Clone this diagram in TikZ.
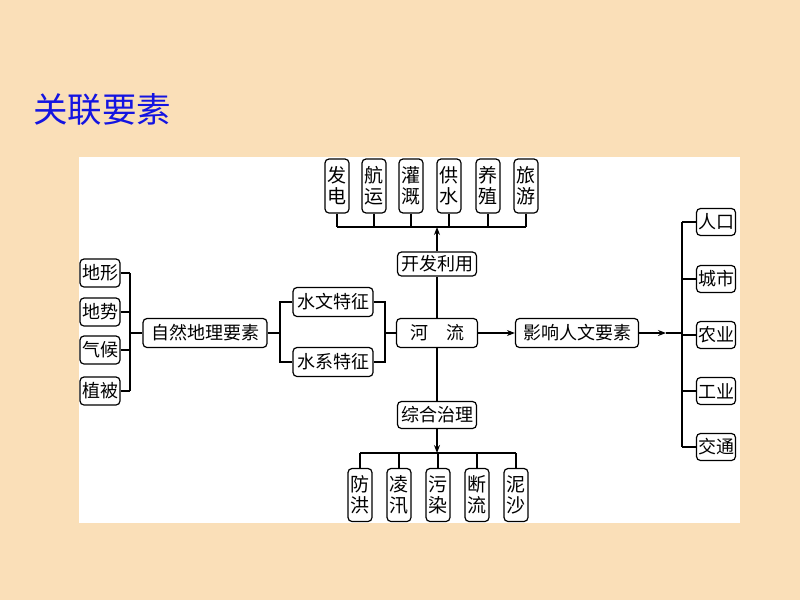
\documentclass[tikz,border=0pt]{standalone}
\usepackage{fontspec}
\setmainfont{Noto Sans CJK SC}
\usetikzlibrary{arrows.meta}
\definecolor{peach}{RGB}{250,223,184}
\definecolor{titleblue}{RGB}{20,20,225}
\tikzset{
  box/.style={draw, rounded corners=4pt, line width=1.2pt, fill=white, inner sep=0pt,
    font=\fontsize{18}{21}\selectfont},
  tall/.style={box, minimum width=24pt, minimum height=54pt, align=center,
    font=\fontsize{19}{21}\selectfont},
  wide/.style={box, minimum height=29pt},
  small/.style={box, minimum width=40pt, minimum height=28pt},
  link/.style={line width=1.2pt},
  tip/.style={link, -{Stealth[length=8pt,width=6pt]}}
}
\begin{document}
\begin{tikzpicture}[x=1pt, y=-1pt]

      % background and panel
      \fill[peach] (0,0) rectangle (800,600);
      \fill[white] (79,157) rectangle (740,523);
      \useasboundingbox (0,0) rectangle (800,600);

      \node[font=\fontsize{34.5}{40}\selectfont, text=titleblue, anchor=west, inner sep=0pt] (title) at (33,110) {关联要素};

      % centre line
      \node[wide, minimum width=81pt] (river) at (437,333) {河\quad 流};
      \node[wide, minimum width=79pt, minimum height=24pt] (dev) at (437,264) {开发利用};
      \node[wide, minimum width=79pt, minimum height=27pt] (manage) at (437,415) {综合治理};
      \node[wide, minimum width=123pt] (human) at (577,333) {影响人文要素};

      \draw[link] (dev.south) -- (river.north);
      \draw[link] (river.south) -- (manage.north);
      \draw[tip] (river.east) -- (human.west);

      % uses
      \coordinate (ubus) at (437,227);
      \foreach \a/\b/\x [count=\i] in {发/电/337, 航/运/374, 灌/溉/411, 供/水/449, 养/殖/488, 旅/游/526}{
         \node[tall] (use\i) at (\x,186) {\a\\\b};
         \draw[link] (use\i.south) -- (use\i.south |- ubus);
      }
      \draw[link] (use1.south |- ubus) -- (use6.south |- ubus);
      \draw[tip] (dev.north) -- (ubus);

      % problems
      \coordinate (dbus) at (437,453);
      \foreach \a/\b/\x [count=\i] in {防/洪/360, 凌/汛/399, 污/染/438, 断/流/477, 泥/沙/516}{
         \node[tall, minimum height=53pt] (fix\i) at (\x,495) {\a\\\b};
         \draw[link] (fix\i.north) -- (fix\i.north |- dbus);
      }
      \draw[link] (fix1.north |- dbus) -- (fix5.north |- dbus);
      \draw[tip] (manage.south) -- (dbus);

      % natural side
      \node[wide, minimum width=124pt] (nature) at (205,333) {自然地理要素};
      \node[wide, minimum width=80pt] (hydro) at (333,302) {水文特征};
      \node[wide, minimum width=80pt] (net) at (333,362) {水系特征};

      \coordinate (lbus) at (130,333);
      \foreach \t/\y [count=\i] in {地形/273, 地势/312, 气候/350, 植被/391}{
         \node[small] (nat\i) at (100,\y) {\t};
         \draw[link] (nat\i.east) -- (nat\i.east -| lbus);
      }
      \draw[link] (nat1.east -| lbus) -- (nat4.east -| lbus);
      \draw[link] (lbus) -- (nature.west);

      \coordinate (mbus) at (280,333);
      \coordinate (nbus) at (385,333);
      \draw[link] (nature.east) -- (mbus);
      \draw[link] (hydro.west) -| (mbus) |- (net.west);
      \draw[link] (hydro.east) -| (nbus) |- (net.east);
      \draw[link] (nbus) -- (river.west);

      % human side
      \coordinate (rtip) at (666,333);
      \coordinate (rbus) at (682,333);
      \draw[tip] (human.east) -- (rtip);
      \draw[link] (rtip) -- (rbus);
      \foreach \t/\y [count=\i] in {人口/222, 城市/279, 农业/335, 工业/391, 交通/447}{
         \node[small, minimum width=39pt, minimum height=27pt] (soc\i) at (716,\y) {\t};
         \draw[link] (soc\i.west) -- (soc\i.west -| rbus);
      }
      \draw[link] (soc1.west -| rbus) -- (soc5.west -| rbus);
    \end{tikzpicture}
\end{document}
